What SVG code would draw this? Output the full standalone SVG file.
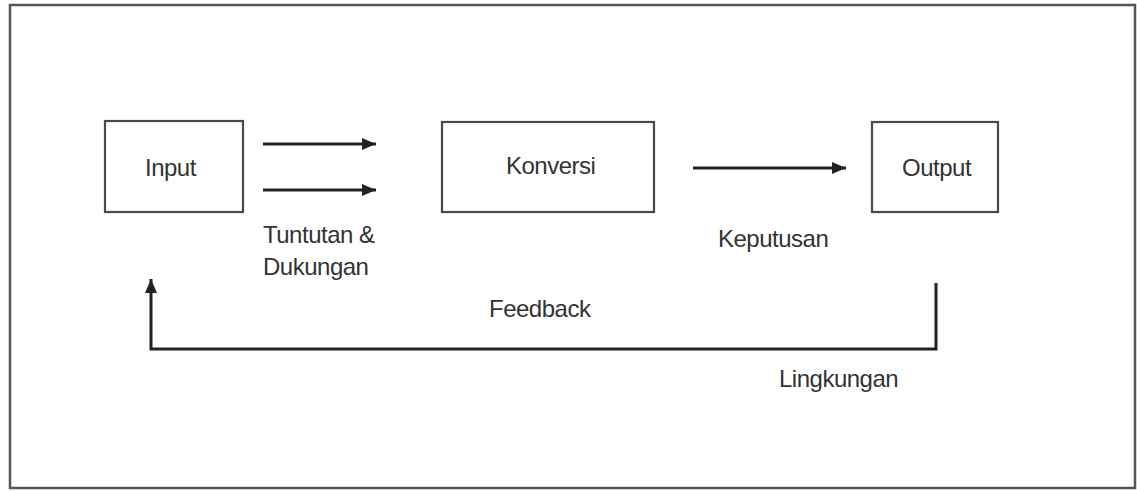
<svg xmlns="http://www.w3.org/2000/svg" width="1137" height="491" viewBox="0 0 1137 491">
<style>
.box{fill:#fff;stroke:#4a4a4a;stroke-width:2.2}
.lbl{font-family:"Liberation Sans",Arial,sans-serif;font-size:24px;fill:#333;letter-spacing:-0.5px}
.conn{fill:none;stroke:#222;stroke-width:3}
</style>
<defs>
<marker id="ah" markerUnits="userSpaceOnUse" markerWidth="14" markerHeight="12" refX="14" refY="6" orient="auto">
<path d="M0,0 L14,6 L0,12 z" fill="#222"/>
</marker>
</defs>
<rect x="0" y="0" width="1137" height="491" fill="#fff"/>
<rect x="10" y="5" width="1125" height="483" fill="none" stroke="#555" stroke-width="2.5"/>
<g id="input"><rect class="box" x="105" y="121" width="138" height="91"/><text class="lbl" x="145" y="176">Input</text></g>
<g id="konversi"><rect class="box" x="442" y="122" width="212" height="90"/><text class="lbl" x="506" y="174">Konversi</text></g>
<g id="output"><rect class="box" x="872" y="122" width="126" height="90"/><text class="lbl" x="902" y="176">Output</text></g>
<g id="connectors">
<line class="conn" x1="263" y1="144" x2="376" y2="144" marker-end="url(#ah)"/>
<line class="conn" x1="263" y1="190" x2="376" y2="190" marker-end="url(#ah)"/>
<line class="conn" x1="693" y1="168" x2="846" y2="168" marker-end="url(#ah)"/>
<polyline class="conn" points="936,283 936,349 151,349 151,279" marker-end="url(#ah)"/>
</g>
<g id="labels">
<text class="lbl" x="263" y="243">Tuntutan &amp;</text>
<text class="lbl" x="263" y="275">Dukungan</text>
<text class="lbl" x="718" y="247">Keputusan</text>
<text class="lbl" x="489" y="317">Feedback</text>
<text class="lbl" x="779" y="387">Lingkungan</text>
</g>
</svg>
